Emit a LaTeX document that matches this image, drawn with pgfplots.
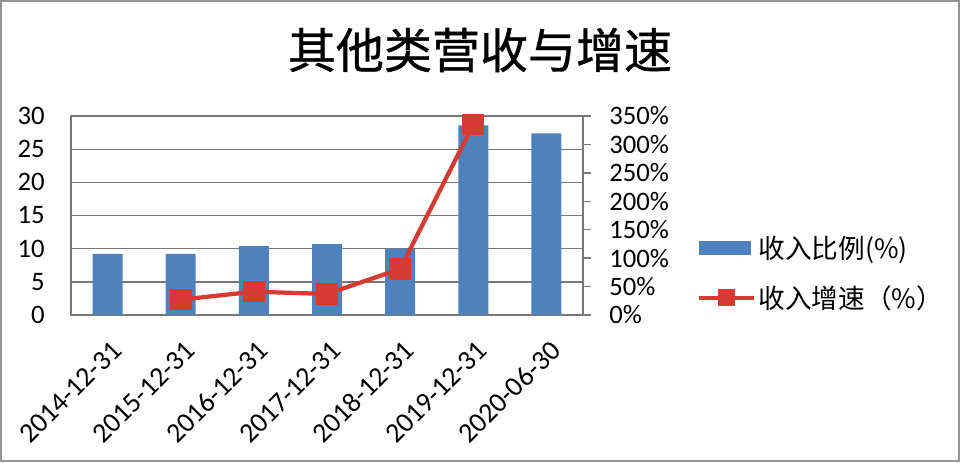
\documentclass[border=0pt]{standalone}
\usepackage{pgfplots}
\pgfplotsset{compat=1.18}
\usepackage{fontspec}
\setmainfont{Carlito}
\newfontfamily\cjk{Noto Sans CJK SC}
\newfontfamily\cjktitle[FakeBold=0.8]{Noto Sans CJK SC}
\definecolor{barblue}{RGB}{79,129,189}
\definecolor{linered}{RGB}{214,58,50}
\definecolor{gridgray}{RGB}{120,120,120}

\pgfplotsset{
  base/.style={
    scale only axis, width=384pt, height=149.25pt,
    at={(53.25pt,110.25pt)}, anchor=south west,
    xmin=-0.5, xmax=6.5, ymin=0,
    /pgf/number format/assume math mode=true,
    tick label style={font=\fontsize{20}{24}\selectfont},
    axis line style={gridgray, line width=1pt},
  },
  barlegend/.style={legend image code/.code={\fill[barblue] (0pt,-5pt) rectangle (38pt,5pt);}},
  linelegend/.style={legend image code/.code={\draw[##1, line width=2.8pt, mark size=5pt, mark repeat=2, mark phase=2]
    plot coordinates {(0pt,0pt) (20.5pt,0pt) (41pt,0pt)};}},
}

\begin{document}
\begin{tikzpicture}
\useasboundingbox (0pt,0pt) rectangle (720pt,346.5pt);
\draw[gridgray!80, line width=1.2pt] (0.75pt,0.75pt) rectangle (719.25pt,345.75pt);
\node[font=\cjktitle\fontsize{36}{40}\selectfont] at (360pt,309pt) {其他类营收与增速};

% left axis: bars
\begin{axis}[base, ymax=30, ytick={0,5,...,30},
  xtick={0,...,6},
  xticklabels={2014-12-31,2015-12-31,2016-12-31,2017-12-31,2018-12-31,2019-12-31,2020-06-30},
  xticklabel style={font=\fontsize{21}{24}\selectfont, anchor=east, inner sep=0pt, xshift=7pt, yshift=-23pt, rotate=45},
  yticklabel style={anchor=east, inner sep=0pt, xshift=-19.5pt},
  major tick length=0pt,
  ymajorgrids, grid style={gridgray, line width=1pt},
  ybar, bar width=0.41,
]
\addplot[fill=barblue, draw=none] coordinates {(0,9.2) (1,9.2) (2,10.4) (3,10.7) (4,10.0) (5,28.6) (6,27.4)};
\end{axis}

% right axis: growth line
\begin{axis}[base, ymax=350, ytick={0,50,...,350},
  hide x axis, ytick pos=right, yticklabel pos=right,
  yticklabel={\pgfmathprintnumber{\tick}\%},
  tick align=outside, major tick length=6pt,
  ytick style={gridgray, line width=1pt},
  yticklabel style={anchor=west, inner sep=0pt, xshift=13.5pt},
  clip=false,
  legend style={at={(axis description cs:1.2227,0.211)}, anchor=west,
    draw=none, fill=none, inner sep=0pt, row sep=15pt,
    font=\cjk\fontsize{20}{24}\selectfont},
  legend cell align=left,
]
\addlegendimage{barlegend}
\addlegendentry{收入比例(\%)}
\addplot[linered, line width=3.2pt, mark=square*, mark size=6.5pt, linelegend]
  coordinates {(1,27) (2,41) (3,37) (4,81) (5,335)};
\addlegendentry{收入增速（\%）}
\end{axis}
\end{tikzpicture}
\end{document}
